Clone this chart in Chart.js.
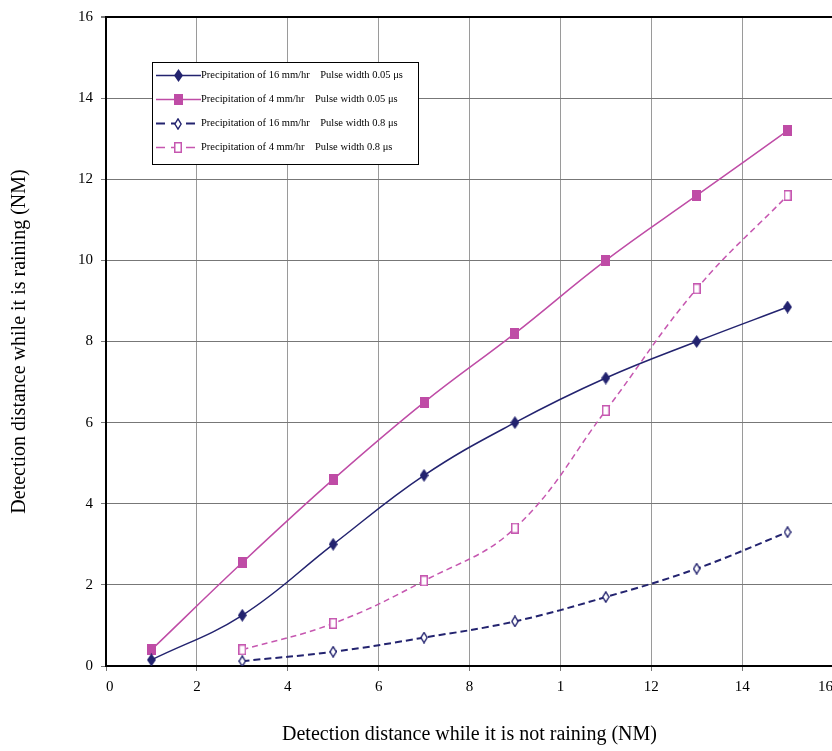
<!DOCTYPE html>
<html><head><meta charset="utf-8">
<script src="https://cdn.jsdelivr.net/npm/chart.js@4.4.1/dist/chart.umd.min.js"></script>
<style>html,body{margin:0;padding:0;background:#fff;overflow:hidden;}#wrap{width:840px;height:751px;}</style>
</head><body><div id="wrap"><canvas id="c" width="840" height="751" style="width:840px;height:751px"></canvas></div>
<script>
// ---- data ----
const xNarrow = [1, 3, 5, 7, 9, 11, 13, 15];
const xWide = [3, 5, 7, 9, 11, 13, 15];
const rain16Pulse005 = [0.15, 1.25, 3.0, 4.7, 6.0, 7.1, 8.0, 8.85];
const rain4Pulse005 = [0.4, 2.55, 4.6, 6.5, 8.2, 10.0, 11.6, 13.2];
const rain16Pulse08 = [0.12, 0.35, 0.7, 1.1, 1.7, 2.4, 3.3];
const rain4Pulse08 = [0.4, 1.05, 2.1, 3.4, 6.3, 9.3, 11.6];
const seriesNames = [
  'Precipitation of 16 mm/hr    Pulse width 0.05 \u03bcs',
  'Precipitation of 4 mm/hr    Pulse width 0.05 \u03bcs',
  'Precipitation of 16 mm/hr    Pulse width 0.8 \u03bcs',
  'Precipitation of 4 mm/hr    Pulse width 0.8 \u03bcs'
];
const xTickLabels = ['0', '2', '4', '6', '8', '1', '12', '14', '16'];
const yTickLabels = ['0', '2', '4', '6', '8', '10', '12', '14', '16'];
const xTitle = 'Detection distance while it is not raining (NM)';
const yTitle = 'Detection distance while it is raining (NM)';

// ---- styles ----
const NAVY = '#23236f';
const MAG = '#bf4ca6';
const MAG2 = '#c657b0';
const SERIF = '"Liberation Serif", "Times New Roman", serif';

function marker(shape, w, h, fill, stroke, lw) {
  const c = document.createElement('canvas');
  c.width = w; c.height = h;
  const g = c.getContext('2d');
  g.fillStyle = fill; g.strokeStyle = stroke; g.lineWidth = lw;
  if (shape === 'diamond') {
    const i = lw ? lw / 2 + 0.2 : 0;
    g.beginPath();
    g.moveTo(w / 2, i); g.lineTo(w - i, h / 2); g.lineTo(w / 2, h - i); g.lineTo(i, h / 2); g.closePath();
    g.fill(); if (lw) g.stroke();
  } else {
    if (lw) { g.fillRect(0, 0, w, h); g.strokeRect(lw / 2, lw / 2, w - lw, h - lw); }
    else g.fillRect(0, 0, w, h);
  }
  return c;
}
const mFilledDiamond = marker('diamond', 9, 13, NAVY, NAVY, 0);
const mFilledSquare = marker('square', 9, 11, MAG, MAG, 0);
const mOpenDiamond = marker('diamond', 8, 12, '#fff', NAVY, 1.4);
const mOpenSquare = marker('square', 8, 11, '#fff', MAG2, 1.5);

const pts = (xs, ys) => xs.map((x, i) => ({ x: x, y: ys[i] }));

const legendPlugin = {
  id: 'boxLegend',
  afterDatasetsDraw(chart) {
    const { ctx, chartArea } = chart;
    const left = Math.round(chartArea.left + 46), top = Math.round(chartArea.top + 45), w = 266, h = 102;
    ctx.save();
    ctx.fillStyle = '#fff'; ctx.fillRect(left, top, w, h);
    ctx.strokeStyle = '#000'; ctx.lineWidth = 1; ctx.strokeRect(left + 0.5, top + 0.5, w, h);
    chart.data.datasets.forEach((ds, i) => {
      const y = top + 13.5 + i * 24;
      ctx.strokeStyle = ds.borderColor; ctx.lineWidth = ds.borderWidth;
      ctx.setLineDash(ds.legendDash || []);
      ctx.beginPath(); ctx.moveTo(left + 4, y); ctx.lineTo(left + 49, y); ctx.stroke();
      ctx.setLineDash([]);
      const m = ds.pointStyle;
      ctx.drawImage(m, Math.round(left + 26 - m.width / 2), Math.round(y - m.height / 2));
      ctx.fillStyle = '#000'; ctx.font = '10.5px ' + SERIF; ctx.textBaseline = 'middle'; ctx.textAlign = 'left';
      ctx.fillText(ds.label, left + 49, y);
    });
    ctx.restore();
  }
};

new Chart(document.getElementById('c'), {
  type: 'line',
  data: {
    datasets: [
      { label: seriesNames[0], data: pts(xNarrow, rain16Pulse005), borderColor: NAVY, borderWidth: 1.5,
        pointStyle: mFilledDiamond, pointRadius: 5, tension: 0.4, fill: false },
      { label: seriesNames[1], data: pts(xNarrow, rain4Pulse005), borderColor: MAG, borderWidth: 1.5,
        pointStyle: mFilledSquare, pointRadius: 5, tension: 0.4, fill: false },
      { label: seriesNames[2], data: pts(xWide, rain16Pulse08), borderColor: NAVY, borderWidth: 2,
        borderDash: [7, 4], legendDash: [9, 6], pointStyle: mOpenDiamond, pointRadius: 5, tension: 0.4, fill: false },
      { label: seriesNames[3], data: pts(xWide, rain4Pulse08), borderColor: MAG2, borderWidth: 1.5,
        borderDash: [6, 4], legendDash: [9, 6], pointStyle: mOpenSquare, pointRadius: 5, tension: 0.4, fill: false }
    ]
  },
  options: {
    responsive: false,
    devicePixelRatio: 1,
    animation: false,
    layout: { padding: { top: 14, right: 0, left: 0, bottom: 0 } },
    plugins: { legend: { display: false }, tooltip: { enabled: false } },
    scales: {
      x: {
        type: 'linear', min: 0, max: 16,
        afterFit: s => { s.height = 85; },
        ticks: { stepSize: 2, autoSkip: false, maxRotation: 0, align: 'inner', padding: 7,
          color: '#000', font: { family: SERIF, size: 15 },
          callback: (v, i) => xTickLabels[i] },
        grid: { color: '#9a9a9a', lineWidth: 1, tickLength: 5, tickColor: '#777' },
        border: { color: '#000', width: 2 },
        title: { display: true, text: xTitle, color: '#000', font: { family: SERIF, size: 20 },
          padding: { top: 0, bottom: 4 } }
      },
      y: {
        type: 'linear', min: 0, max: 16,
        afterFit: s => { s.width = 106; },
        ticks: { stepSize: 2, autoSkip: false, padding: 8, color: '#000', font: { family: SERIF, size: 15 },
          callback: (v, i) => yTickLabels[i] },
        grid: { color: c => (c.tick && c.tick.value === 16 ? '#000' : '#777'),
          lineWidth: c => (c.tick && c.tick.value === 16 ? 2 : 1), tickLength: 5, tickColor: '#777' },
        border: { color: '#000', width: 2 },
        title: { display: true, text: yTitle, color: '#000', font: { family: SERIF, size: 20 },
          padding: { top: 8, bottom: 0 } }
      }
    }
  },
  plugins: [legendPlugin]
});
</script>
</body></html>
